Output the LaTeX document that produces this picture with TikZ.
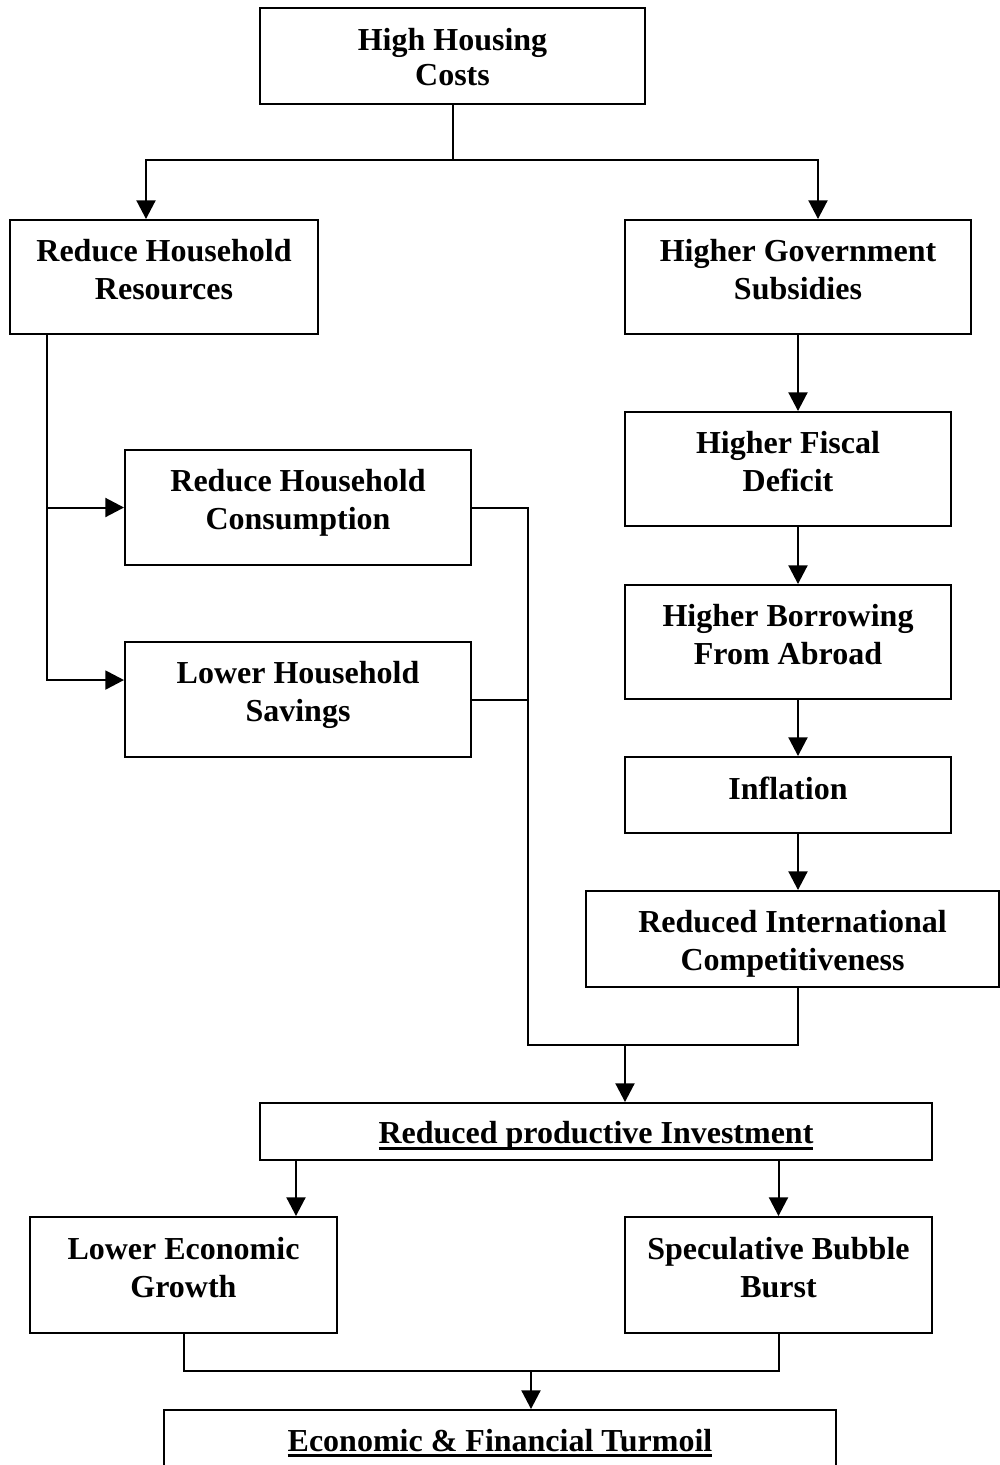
\documentclass[tikz,border=0pt]{standalone}
\usepackage{fontspec}
\setmainfont{Liberation Serif}
\usetikzlibrary{arrows.meta}
\newcommand\pad[1][11.5pt]{\rule[-#1]{0pt}{0pt}}
\newcommand\tpad[1][23.8pt]{\rule{0pt}{#1}}
\newcommand\thickul[1]{\setbox0=\hbox{#1}\rlap{\rule[-4.5pt]{\wd0}{2.25pt}}\box0}
\begin{document}
\begin{tikzpicture}[x=0.75pt, y=-0.75pt, line width=1.5pt,
	box/.style 2 args = {draw, rectangle, align=center, inner sep=0pt, minimum width=#1, minimum height=#2, font=\bfseries\fontsize{24}{28.5}\selectfont},
	arr/.style = {-{Triangle[length=14pt, width=14.25pt]}}]
	\useasboundingbox (0,0) rectangle (1000,1465);
	\node [box={288.75pt}{72pt}, font=\bfseries\fontsize{24}{26.25}\selectfont] (cost) at (452.5,56) {\tpad[21.5pt]High Housing\\Costs\pad[3.5pt]};
	\node [box={231pt}{85.5pt}] (res) at (164,277) {Reduce Household\\Resources\pad};
	\node [box={259.5pt}{85.5pt}] (subs) at (798,277) {Higher Government\\Subsidies\pad};
	\node [box={244.5pt}{85.5pt}] (deficit) at (788,469) {Higher Fiscal\\Deficit\pad};
	\node [box={244.5pt}{85.5pt}] (borrow) at (788,642) {Higher Borrowing\\From Abroad\pad};
	\node [box={244.5pt}{57pt}] (infl) at (788,795) {Inflation\pad[10pt]};
	\node [box={309.75pt}{72pt}] (compet) at (792.5,939) {\tpad Reduced International\\Competitiveness};
	\node [box={259.5pt}{86.25pt}] (cons) at (298,507.5) {Reduce Household\\Consumption\pad};
	\node [box={259.5pt}{86.25pt}] (sav) at (298,699.5) {Lower Household\\Savings\pad};
	\node [box={504pt}{42.75pt}] (invest) at (596,1131.5) {\tpad\thickul{Reduced productive Investment}};
	\node [box={230.25pt}{87pt}] (growth) at (183.5,1275) {Lower Economic\\Growth\pad};
	\node [box={230.25pt}{87pt}] (bubble) at (778.5,1275) {Speculative Bubble\\Burst\pad};
	\node [box={504pt}{49.5pt}] (turmoil) at (500,1443) {\thickul{Economic \& Financial Turmoil}};

	\coordinate (split) at (452.5,160);
	\draw (cost.south) -- (split);
	\draw [arr] (split) -| ([xshift=-13.5pt]res.north);
	\draw [arr] (split) -| ([xshift=15pt]subs.north);
	\draw [arr] (subs.south) -- (subs.south |- deficit.north);
	\draw [arr] (subs.south |- deficit.south) -- (subs.south |- borrow.north);
	\draw [arr] (subs.south |- borrow.south) -- (subs.south |- infl.north);
	\draw [arr] (subs.south |- infl.south) -- (subs.south |- compet.north);

	\coordinate (trunk) at ([xshift=28.5pt]res.south west);
	\draw [arr] (trunk) |- ([yshift=14.6pt]sav.west);
	\draw [arr] (trunk |- cons.west) -- (cons.west);

	\coordinate (join) at (528,1045);
	\draw (subs.south |- compet.south) |- (join) |- (cons.east);
	\draw (sav.east) -- (sav.east -| join);
	\coordinate (drop) at (625,1045);
	\draw [arr] (drop) -- (drop |- invest.north);

	\coordinate (gl) at ([xshift=27.75pt]invest.south west);
	\draw [arr] (gl) -- (gl |- growth.north);
	\draw [arr] (bubble.north |- invest.south) -- (bubble.north);
	\coordinate (base) at (531,1371);
	\draw (growth.south) |- (base) -| (bubble.south);
	\draw [arr] (base) -- (base |- turmoil.north);
\end{tikzpicture}
\end{document}
